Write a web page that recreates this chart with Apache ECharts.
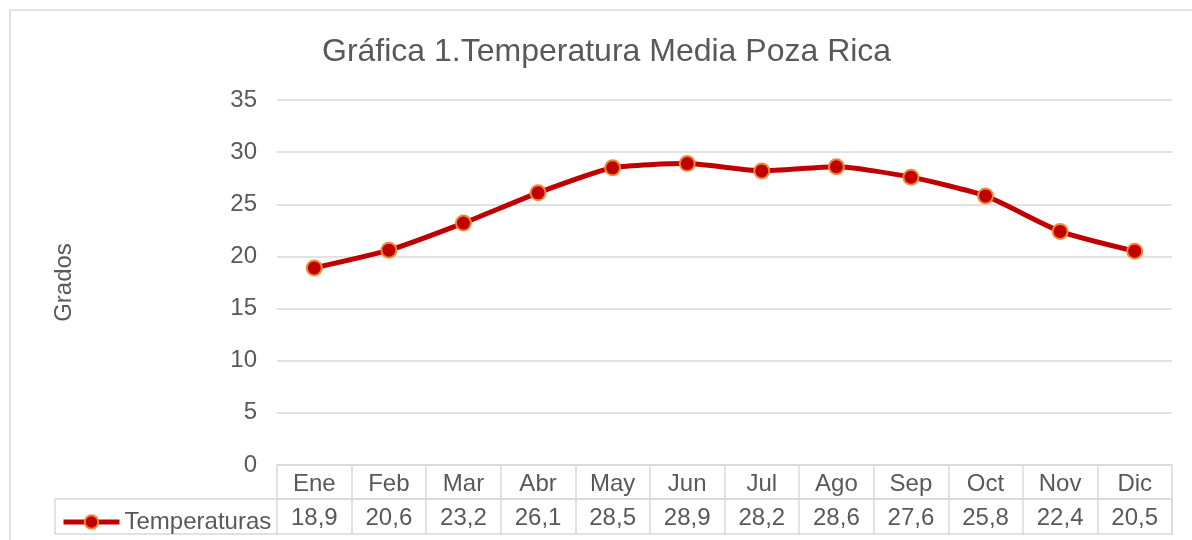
<!DOCTYPE html>
<html>
<head>
<meta charset="utf-8">
<script src="https://cdn.jsdelivr.net/npm/echarts@6/dist/echarts.min.js"></script>
<style>
  html, body { margin: 0; padding: 0; background: #fff; }
  #main { width: 1192px; height: 540px; }
</style>
</head>
<body>
<div id="main"></div>
<script>
// datos de la grafica
var meses = ['Ene', 'Feb', 'Mar', 'Abr', 'May', 'Jun', 'Jul', 'Ago', 'Sep', 'Oct', 'Nov', 'Dic'];
var temperaturas = [18.9, 20.6, 23.2, 26.1, 28.5, 28.9, 28.2, 28.6, 27.6, 25.8, 22.4, 20.5];
var yTicks = [0, 5, 10, 15, 20, 25, 30, 35];

var gris = '#595959';
var borde = '#d9d9d9';
var fuente = '"Liberation Sans", Arial, sans-serif';

// valores con coma decimal para la tabla de datos
var valoresTabla = temperaturas.map(function (v) {
    return v.toFixed(1).replace('.', ',');
});

var myChart = echarts.init(document.getElementById('main'));

var option = {
    animation: false,
    textStyle: { fontFamily: fuente },
    title: {
        text: 'Gráfica 1.Temperatura Media Poza Rica',
        left: 317,
        top: 31,
        textStyle: { fontFamily: fuente, fontSize: 32, fontWeight: 'normal', color: gris }
    },
    legend: {
        left: 56,
        top: 505,
        itemWidth: 56,
        itemHeight: 17,
        itemGap: 5,
        textStyle: { fontFamily: fuente, fontSize: 24, color: gris },
        lineStyle: { color: '#c00000', width: 5 },
        data: ['Temperaturas']
    },
    grid: { left: 277, right: 20, top: 100, bottom: 75 },
    xAxis: [{
        type: 'category',
        data: meses,
        position: 'bottom',
        boundaryGap: true,
        axisLine: { lineStyle: { color: borde, width: 1.5 } },
        axisTick: { show: true, length: 70, lineStyle: { color: borde, width: 1.5 } },
        axisLabel: { color: gris, fontSize: 24, margin: 7, fontFamily: fuente }
    }, {
        type: 'category',
        data: valoresTabla,
        position: 'bottom',
        offset: 34,
        boundaryGap: true,
        axisLine: { show: true, lineStyle: { color: borde, width: 1.5 } },
        axisTick: { show: false },
        axisLabel: { color: gris, fontSize: 24, margin: 7, fontFamily: fuente }
    }],
    yAxis: {
        type: 'value',
        min: yTicks[0],
        max: yTicks[yTicks.length - 1],
        interval: 5,
        name: 'Grados',
        nameLocation: 'middle',
        nameGap: 201,
        nameTextStyle: { color: gris, fontSize: 24, fontFamily: fuente },
        axisLine: { show: false },
        axisTick: { show: false },
        axisLabel: { color: gris, fontSize: 24, margin: 20, fontFamily: fuente },
        splitLine: { lineStyle: { color: borde, width: 1.5 } }
    },
    series: [{
        name: 'Temperaturas',
        type: 'line',
        data: temperaturas,
        smooth: 0.2,
        symbol: 'circle',
        symbolSize: 15,
        lineStyle: { color: '#c00000', width: 5 },
        itemStyle: { color: '#c00000', borderColor: '#f0883a', borderWidth: 2 },
        z: 5
    }],
    graphic: [{
        // marco exterior del grafico
        type: 'rect',
        shape: { x: 10, y: 10, width: 1200, height: 600 },
        style: { fill: null, stroke: borde, lineWidth: 1.5 },
        silent: true
    }, {
        // celda de la leyenda y linea inferior de la tabla
        type: 'rect',
        shape: { x: 55, y: 499, width: 1117, height: 35 },
        style: { fill: null, stroke: borde, lineWidth: 1.5 },
        silent: true
    }]
};

myChart.setOption(option);
</script>
</body>
</html>
